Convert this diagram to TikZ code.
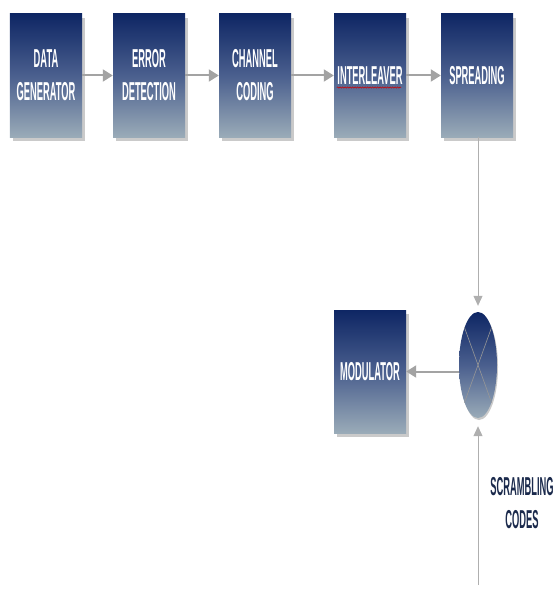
\documentclass[tikz,border=0pt]{standalone}
\usepackage{fontspec}
\newfontfamily\condfont[FakeStretch=0.36]{Liberation Sans}
\usetikzlibrary{shapes.geometric, arrows.meta, positioning, shadows, decorations.pathmorphing}

\definecolor{navytop}{HTML}{0E2664}
\definecolor{navymid}{HTML}{4A5F8E}
\definecolor{navybot}{HTML}{9AABB8}
\definecolor{linkgray}{HTML}{8C8C8C}
\definecolor{labelnavy}{HTML}{1B2A4C}

\begin{document}
\begin{tikzpicture}[x=1bp, y=-1bp,
  block/.style={minimum width=72bp, minimum height=123bp, inner sep=1bp, align=center,
    top color=navytop, bottom color=navybot, middle color=navymid,
    font=\condfont\fontsize{26}{33}\selectfont\bfseries, text=white,
    drop shadow={shadow xshift=3bp, shadow yshift=-4bp, fill=gray!70, opacity=0.6}},
  mixer/.style={ellipse, minimum width=38bp, minimum height=106bp, inner sep=0pt,
    top color=navytop, bottom color=navybot, middle color=navymid,
    drop shadow={shadow xshift=1bp, shadow yshift=-2bp, fill=gray!70, opacity=0.6}},
  flow/.style={-{Triangle[length=10bp, width=12bp]}, line width=2bp, draw=linkgray!80},
  feed/.style={-{Triangle[length=10bp, width=9bp]}, line width=1bp, draw=linkgray!70},
  label/.style={align=center, text=labelnavy, font=\condfont\fontsize{26}{33}\selectfont\bfseries}
]
\useasboundingbox (0,0) rectangle (559,591);

% Row 1: processing chain
\node[block] (datagen)  at (46, 75.5)  {DATA\\GENERATOR};
\node[block] (errdet)   at (149, 75.5) {ERROR\\DETECTION};
\node[block] (chcode)   at (255, 75.5) {CHANNEL\\CODING};
\node[block] (inter)    at (370, 75.5) {INTERLEAVER};
\node[block] (spread)   at (477, 75.5) {SPREADING};

% Row 2: scrambling and modulation
\node[mixer] (mix)      at (478, 365) {};
\node[block] (modul)    at (370, 371.5) {MODULATOR};
\coordinate (scr)       at (478, 585);
\node[label] (scrlabel) at (522, 503) {SCRAMBLING\\CODES};

% cross inside the mixer
\draw[linkgray!90, line width=0.6bp] (mix.north west) -- (mix.south east);
\draw[linkgray!90, line width=0.6bp] (mix.north east) -- (mix.south west);

% spell-check mark under interleaver
\draw[red!80!black, line width=0.6bp, decorate, decoration={snake, amplitude=0.6bp, segment length=2.5bp}]
  ([xshift=3bp, yshift=-12bp]inter.west) -- ([xshift=-5bp, yshift=-12bp]inter.east);

% Arrows along the chain
\draw[flow] (datagen) -- (errdet);
\draw[flow] (errdet) -- (chcode);
\draw[flow] (chcode) -- (inter);
\draw[flow] (inter) -- (spread);

% spreading -> mixer -> modulator
\draw[feed, shorten >=6bp] (spread.south -| mix) -- (mix.north);
\draw[flow] (mix.west |- modul.east) -- (modul.east);
\draw[feed, shorten >=8bp] (scr) -- (mix.south);

\end{tikzpicture}
\end{document}
